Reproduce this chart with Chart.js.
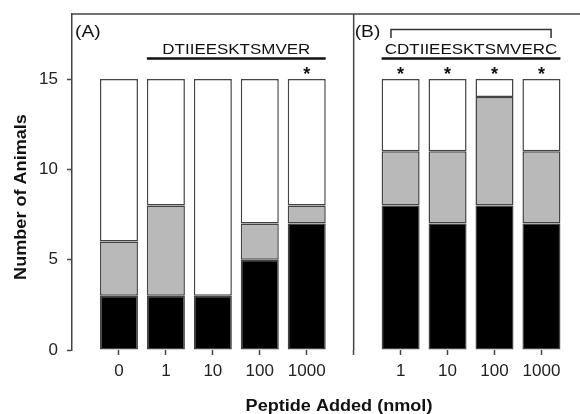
<!DOCTYPE html>
<html>
<head>
<meta charset="utf-8">
<script src="https://cdnjs.cloudflare.com/ajax/libs/Chart.js/4.4.0/chart.umd.min.js"></script>
<style>
  html, body { margin: 0; padding: 0; background: #fff; }
  #wrap { width: 580px; height: 414px; }
</style>
</head>
<body>
<div id="wrap"><canvas id="chart"></canvas></div>
<script>
// data
const labelsA = ["0", "1", "10", "100", "1000"];
const labelsB = ["1", "10", "100", "1000"];
const blackVals = [3, 3, 3, 5, 7, 8, 7, 8, 7];
const grayVals = [3, 5, 0, 2, 1, 3, 4, 6, 4];
const whiteVals = [9, 7, 12, 8, 7, 4, 4, 1, 4];
const starred = [false, false, false, false, true, true, true, true, true];
const yTicks = [0, 5, 10, 15];
const peptideA = "DTIIEESKTSMVER";
const peptideB = "CDTIIEESKTSMVERC";

// slots on the x axis: empty slot at the left edge and one for the divider
const slots = [""].concat(labelsA, [""], labelsB);
const barSlots = [];
slots.forEach((s, i) => { if (s !== "") barSlots.push(i); });
const dividerSlot = labelsA.length + 1;

const FONT = "'Liberation Sans', Arial, sans-serif";
const STRETCH = 1.13;

function points(vals) {
  return vals.map((v, i) => ({ x: barSlots[i], y: v }));
}

function stretchedText(ctx, text, x, y, font, align) {
  ctx.save();
  ctx.font = font;
  ctx.textAlign = align || "center";
  ctx.translate(x, y);
  ctx.scale(STRETCH, 1);
  ctx.fillText(text, 0, 0);
  ctx.restore();
}

const decorations = {
  id: "decorations",
  afterDatasetsDraw(chart) {
    const ctx = chart.ctx;
    const xs = chart.scales.x;
    const ys = chart.scales.y;
    const area = chart.chartArea;
    const half = 19;

    ctx.save();
    ctx.strokeStyle = "#444";
    ctx.lineWidth = 1.5;
    // top frame line
    ctx.beginPath();
    ctx.moveTo(area.left, area.top);
    ctx.lineTo(chart.width, area.top);
    ctx.stroke();
    // divider between panels
    const dx = xs.getPixelForValue(dividerSlot);
    ctx.beginPath();
    ctx.moveTo(dx, area.top);
    ctx.lineTo(dx, area.bottom);
    ctx.stroke();

    ctx.fillStyle = "#111";
    ctx.textBaseline = "alphabetic";
    stretchedText(ctx, "(A)", area.left + 3, 37, "17px " + FONT, "left");
    stretchedText(ctx, "(B)", dx + 1, 37, "17px " + FONT, "left");

    // peptide labels with underline
    const aL = xs.getPixelForValue(barSlots[1]) - half;
    const aR = xs.getPixelForValue(barSlots[labelsA.length - 1]) + half;
    const bL = xs.getPixelForValue(barSlots[labelsA.length]) - half;
    const bR = xs.getPixelForValue(barSlots[barSlots.length - 1]) + half;
    const pepFont = "15px " + FONT;
    stretchedText(ctx, peptideA, (aL + aR) / 2, 54, pepFont);
    stretchedText(ctx, peptideB, (bL + bR) / 2, 54, pepFont);
    ctx.strokeStyle = "#111";
    ctx.lineWidth = 2.5;
    ctx.beginPath();
    ctx.moveTo(aL, 58.5); ctx.lineTo(aR, 58.5);
    ctx.moveTo(bL, 58.5); ctx.lineTo(bR, 58.5);
    ctx.stroke();

    // disulfide bracket over the C ... C
    ctx.font = pepFont;
    const tw = ctx.measureText(peptideB).width * STRETCH;
    const cw = ctx.measureText("C").width * STRETCH;
    const tL = (bL + bR) / 2 - tw / 2 + cw / 2;
    const tR = (bL + bR) / 2 + tw / 2 - cw / 2;
    ctx.lineWidth = 1.5;
    ctx.strokeStyle = "#333";
    ctx.beginPath();
    ctx.moveTo(tL, 38); ctx.lineTo(tL, 29.5); ctx.lineTo(tR, 29.5); ctx.lineTo(tR, 38);
    ctx.stroke();

    // significance stars
    ctx.font = "bold 18px " + FONT;
    ctx.textAlign = "center";
    const sy = ys.getPixelForValue(15) + 1;
    starred.forEach((s, i) => {
      if (s) ctx.fillText("*", xs.getPixelForValue(barSlots[i]), sy);
    });

    // axis titles
    stretchedText(ctx, "Peptide Added (nmol)", 339, 411, "bold 16px " + FONT);
    ctx.save();
    ctx.translate(26, 197);
    ctx.rotate(-Math.PI / 2);
    stretchedText(ctx, "Number of Animals", 0, 0, "bold 16px " + FONT);
    ctx.restore();
    ctx.restore();
  }
};

const common = {
  borderColor: "#444",
  borderWidth: 1.5,
  borderSkipped: false,
  categoryPercentage: 1,
  barPercentage: 0.81,
  stack: "s"
};

new Chart(document.getElementById("chart"), {
  type: "bar",
  data: {
    datasets: [
      Object.assign({ data: points(blackVals), backgroundColor: "#000" }, common),
      Object.assign({ data: points(grayVals), backgroundColor: "#b9b9b9" }, common),
      Object.assign({ data: points(whiteVals), backgroundColor: "#fff" }, common)
    ]
  },
  options: {
    responsive: true,
    maintainAspectRatio: false,
    animation: false,
    layout: { padding: { top: 14, right: 1, left: 0, bottom: 0 } },
    plugins: {
      legend: { display: false },
      tooltip: { enabled: false }
    },
    scales: {
      x: {
        type: "linear",
        min: 0,
        max: 10.8,
        offset: false,
        stacked: true,
        afterBuildTicks(scale) {
          scale.ticks = slots.map((s, i) => ({ value: i })).slice(1);
        },
        afterFit(scale) {
          scale.height = 64;
          scale.paddingLeft = 0;
          scale.paddingRight = 0;
        },
        ticks: {
          autoSkip: false,
          maxRotation: 0,
          padding: 6,
          color: "#222",
          font: { family: FONT, size: 17 },
          callback: (v) => slots[v] || ""
        },
        grid: {
          offset: false,
          drawOnChartArea: false,
          drawTicks: true,
          tickLength: 5,
          tickWidth: 1.5,
          color: "#444"
        },
        border: { display: false }
      },
      y: {
        min: 0,
        max: 18.6,
        stacked: true,
        afterBuildTicks(scale) {
          scale.ticks = yTicks.map((v) => ({ value: v }));
        },
        afterFit(scale) {
          scale.width = 72;
          scale.paddingTop = 0;
          scale.paddingBottom = 0;
        },
        ticks: {
          padding: 9,
          color: "#222",
          font: { family: FONT, size: 17 }
        },
        grid: {
          drawOnChartArea: false,
          drawTicks: true,
          tickLength: 5,
          tickWidth: 1.5,
          color: "#444"
        },
        border: { display: true, color: "#444", width: 1.5 }
      }
    }
  },
  plugins: [decorations]
});
</script>
</body>
</html>
